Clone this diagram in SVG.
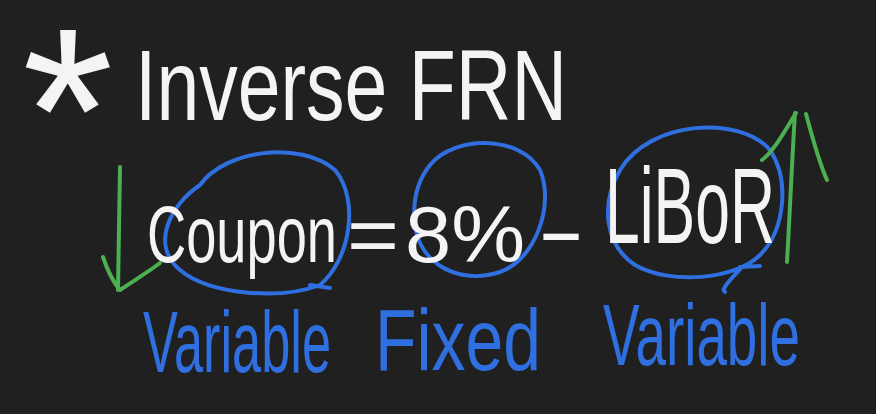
<svg xmlns="http://www.w3.org/2000/svg" width="876" height="414" viewBox="0 0 876 414">
<style>
.w{fill:#f4f4f4;font-family:"Liberation Sans",Arial,sans-serif;}
.b{fill:#2f6fe0;font-family:"Liberation Sans",Arial,sans-serif;}
.ring{fill:none;stroke:#2f6fe0;stroke-width:4;stroke-linecap:round;}
.g{fill:none;stroke:#4caf50;stroke-width:4;stroke-linecap:round;stroke-linejoin:round;}
</style>
<rect width="876" height="414" fill="#202020"/>
<g id="title">
<text class="w" x="22" y="192" font-size="235">*</text>
<text class="w" x="135" y="120" font-size="100" textLength="432" lengthAdjust="spacingAndGlyphs">Inverse FRN</text>
</g>
<g id="coupon">
<path class="ring" d="M200,185 C225,150 300,140 335,170 C360,200 350,260 320,285 M320,285 C280,300 210,295 180,270 C150,245 170,205 200,185 M310,285 L330,288"/>
<text class="w" x="147" y="262" font-size="80" textLength="190" lengthAdjust="spacingAndGlyphs">Coupon</text>
<text class="b" x="143" y="372" font-size="88" textLength="188" lengthAdjust="spacingAndGlyphs">Variable</text>
</g>
<text class="w" x="347" y="262" font-size="80" textLength="52" lengthAdjust="spacingAndGlyphs">=</text>
<g id="fixed">
<path class="ring" d="M430,165 C455,135 520,135 540,170 C555,205 535,260 500,272 C460,285 420,265 415,225 C412,200 418,180 430,165 Z"/>
<text class="w" x="405" y="262" font-size="80" textLength="120" lengthAdjust="spacingAndGlyphs">8%</text>
<text class="b" x="375" y="370" font-size="88" textLength="166" lengthAdjust="spacingAndGlyphs">Fixed</text>
</g>
<text class="w" x="537" y="258" font-size="80" textLength="48" lengthAdjust="spacingAndGlyphs">-</text>
<g id="libor">
<path class="ring" d="M620,170 C650,120 740,115 770,150 C790,180 785,230 760,255 C735,280 670,285 635,265 C605,245 600,205 620,170 Z M740,267 L760,266 M742,267 C730,280 720,290 725,292"/>
<text class="w" x="605" y="243" font-size="108" textLength="170" lengthAdjust="spacingAndGlyphs">LiBoR</text>
<text class="b" x="603" y="365" font-size="88" textLength="197" lengthAdjust="spacingAndGlyphs">Variable</text>
</g>
<g id="connectors">
<path class="g" d="M120,167 L118,290 M103,257 C108,272 114,283 120,290 C135,280 148,272 160,263"/>
<path class="g" d="M787,262 C790,210 792,160 795,113 M762,160 C775,150 785,130 796,113 M806,114 C813,140 820,165 827,180"/>
</g>
</svg>
